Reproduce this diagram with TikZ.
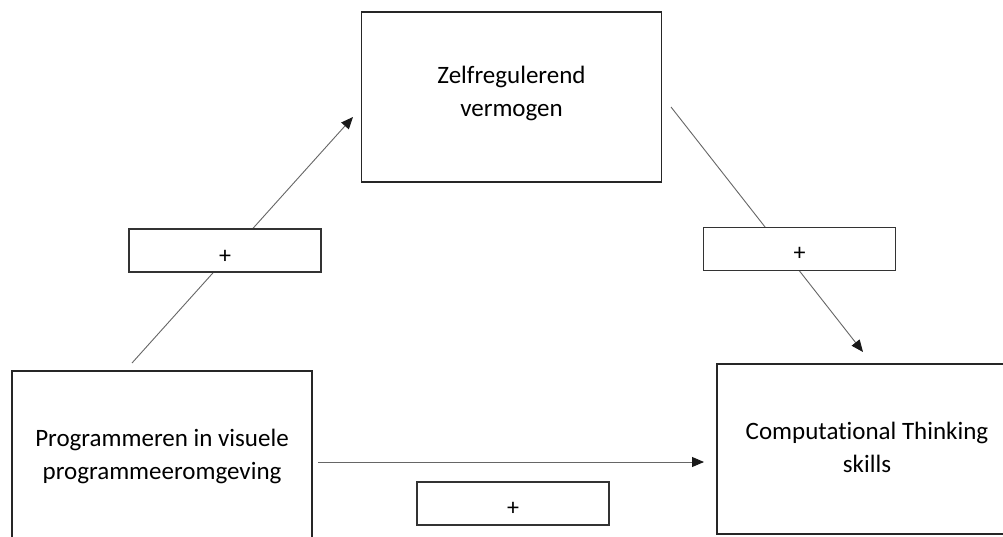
\documentclass[tikz,border=0pt]{standalone}
\usepackage{fontspec}
\setmainfont{Carlito}[Ligatures=NoCommon]
\usetikzlibrary{arrows.meta}
\begin{document}
\begin{tikzpicture}[x=1pt,y=-1pt,
  bigbox/.style={draw=black!85,line width=1.4pt,fill=white,minimum width=300pt,minimum height=170pt,inner sep=0pt,align=center,font=\fontsize{25}{33}\selectfont},
  plusbox/.style={draw=black!80,line width=1.3pt,fill=white,minimum width=192pt,minimum height=43pt,inner sep=0pt},
  plusfont/.style={font=\fontsize{24}{26}\selectfont},
  conn/.style={draw=black!60,line width=0.9pt},
  arr/.style={conn,-{Triangle[length=12pt,width=10pt,color=black!90]}}
]
\clip (0,0) rectangle (1003,536);
\fill[white] (0,0) rectangle (1003,536);
% connectors
\coordinate (s1) at (132,363);
\coordinate (e1) at (353,117);
\coordinate (s2) at (671,107);
\coordinate (e2) at (863,352);
\coordinate (s3) at (318,462);
\coordinate (e3) at (704,462);
\draw[arr] (s1) -- (e1);
\draw[arr] (s2) -- (e2);
\draw[arr] (s3) -- (e3);
% boxes
\node[bigbox,text depth=12pt] (zr) at (511.5,97) {Zelfregulerend\\vermogen};
\node[bigbox,text depth=4pt] (pv) at (162,456) {Programmeren in visuele\\programmeeromgeving};
\node[bigbox,text depth=4pt] (ct) at (867,449) {Computational Thinking\\skills};
% plus boxes
\node[plusbox,label={[yshift=-6pt,plusfont]center:+}] (p1) at (225,250.5) {};
\node[plusbox,label={[yshift=-5pt,plusfont]center:+}] (p2) at (799.5,249) {};
\node[plusbox,label={[yshift=-5pt,plusfont]center:+}] (p3) at (513,503.5) {};
\end{tikzpicture}
\end{document}
